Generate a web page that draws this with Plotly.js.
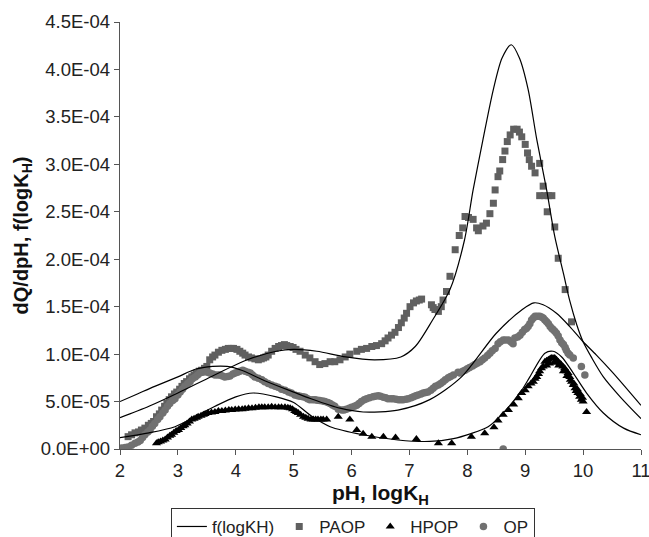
<!DOCTYPE html>
<html>
<head>
<meta charset="utf-8">
<script src="https://cdn.plot.ly/plotly-3.0.1.min.js"></script>
<style>html,body{margin:0;padding:0;background:#fff;}#chart{width:649px;height:537px;}</style>
</head>
<body>
<div id="chart"></div>
<script>
// All y values are in units of 1E-04
const UNIT = 1e-4;

// PAOP (squares)
const paopX = [2.14,2.20,2.26,2.32,2.37,2.43,2.49,2.54,2.58,2.63,2.68,2.72,2.77,2.81,2.85,2.89,2.94,2.98,3.03,3.07,3.11,3.15,3.20,3.24,3.28,3.32,3.37,3.41,3.46,3.50,3.55,3.60,3.64,3.70,3.76,3.82,3.87,3.92,3.96,4.02,4.07,4.12,4.16,4.22,4.27,4.33,4.39,4.44,4.48,4.52,4.56,4.62,4.68,4.74,4.79,4.84,4.88,4.94,4.99,5.04,5.11,5.20,5.28,5.37,5.45,5.54,5.63,5.71,5.80,5.89,5.97,6.09,6.17,6.26,6.35,6.43,6.52,6.58,6.63,6.69,6.75,6.81,6.86,6.91,6.95,7.01,7.07,7.12,7.17,7.21,7.38,7.41,7.44,7.50,7.55,7.58,7.64,7.70,7.79,7.86,7.92,7.96,8.02,8.10,8.16,8.19,8.27,8.33,8.39,8.45,8.48,8.53,8.56,8.61,8.65,8.69,8.74,8.80,8.86,8.90,8.94,9.00,9.04,9.07,9.11,9.17,9.25,9.31,9.25,9.33,9.40,9.46,9.38,9.51,9.57,9.69,9.80];
const paopY = [0.13,0.15,0.17,0.18,0.20,0.22,0.25,0.27,0.29,0.34,0.37,0.41,0.45,0.48,0.52,0.55,0.58,0.60,0.63,0.66,0.69,0.71,0.74,0.76,0.78,0.80,0.82,0.83,0.85,0.87,0.94,0.97,0.99,1.02,1.04,1.05,1.06,1.06,1.06,1.05,1.03,1.01,0.99,0.97,0.96,0.95,0.94,0.95,0.96,0.97,0.99,1.03,1.06,1.08,1.09,1.10,1.09,1.08,1.07,1.05,1.03,0.99,0.96,0.92,0.89,0.90,0.92,0.92,0.94,0.97,1.00,1.03,1.05,1.06,1.08,1.09,1.11,1.14,1.17,1.20,1.23,1.28,1.33,1.38,1.43,1.50,1.54,1.56,1.57,1.58,1.52,1.49,1.47,1.45,1.50,1.57,1.66,1.82,2.10,2.25,2.33,2.45,2.44,2.42,2.33,2.30,2.35,2.38,2.48,2.59,2.73,2.87,2.93,3.05,3.14,3.24,3.31,3.37,3.37,3.34,3.29,3.21,3.12,3.05,2.98,2.91,3.01,2.77,2.67,2.67,2.67,2.67,2.50,2.34,2.01,1.68,1.34];

// HPOP (triangles)
const hpopX = [2.63,2.66,2.70,2.74,2.78,2.82,2.86,2.89,2.93,2.97,3.01,3.05,3.09,3.12,3.16,3.20,3.24,3.28,3.32,3.35,3.40,3.44,3.47,3.52,3.58,3.64,3.70,3.76,3.82,3.88,3.93,3.99,4.05,4.11,4.16,4.22,4.28,4.34,4.40,4.45,4.50,4.56,4.62,4.68,4.74,4.79,4.85,4.90,4.94,4.98,5.02,5.05,5.08,5.12,5.17,5.21,5.25,5.30,5.34,5.38,5.42,5.47,5.51,5.57,5.77,5.97,6.09,6.20,6.35,6.55,6.76,7.12,7.50,7.73,8.07,8.30,8.46,8.53,8.62,8.71,8.80,8.88,8.94,9.00,9.05,9.10,9.14,9.17,9.20,9.23,9.25,9.28,9.31,9.34,9.37,9.40,9.43,9.45,9.48,9.51,9.54,9.57,9.60,9.62,9.65,9.68,9.71,9.74,9.77,9.80,9.83,9.86,9.88,9.91,9.94,9.97,10.00,10.06,9.37,9.42,9.50,9.58,9.66,9.72,9.78,9.84,9.90,9.95,9.99];
const hpopY = [0.06,0.07,0.08,0.09,0.10,0.12,0.14,0.15,0.17,0.19,0.20,0.22,0.24,0.25,0.27,0.29,0.31,0.32,0.33,0.34,0.35,0.36,0.37,0.38,0.385,0.39,0.40,0.40,0.405,0.41,0.41,0.415,0.42,0.42,0.425,0.43,0.43,0.435,0.44,0.44,0.44,0.44,0.445,0.44,0.44,0.44,0.44,0.435,0.43,0.42,0.40,0.39,0.38,0.36,0.34,0.33,0.32,0.31,0.31,0.31,0.31,0.31,0.31,0.31,0.34,0.31,0.20,0.16,0.13,0.13,0.12,0.105,0.06,0.06,0.13,0.165,0.23,0.30,0.36,0.41,0.47,0.535,0.59,0.62,0.66,0.69,0.71,0.74,0.76,0.79,0.82,0.85,0.87,0.92,0.93,0.94,0.95,0.96,0.96,0.96,0.94,0.92,0.90,0.89,0.87,0.85,0.82,0.80,0.76,0.71,0.675,0.64,0.61,0.59,0.55,0.52,0.50,0.39,0.88,0.90,0.91,0.88,0.82,0.77,0.73,0.69,0.63,0.58,0.54];

// OP (circles)
const opX = [2.03,2.09,2.14,2.20,2.26,2.31,2.35,2.39,2.43,2.48,2.52,2.56,2.60,2.65,2.69,2.74,2.78,2.82,2.86,2.91,2.95,3.00,3.04,3.08,3.12,3.17,3.21,3.25,3.30,3.34,3.38,3.43,3.47,3.51,3.55,3.60,3.64,3.69,3.73,3.77,3.81,3.86,3.90,3.95,3.99,4.03,4.07,4.12,4.16,4.21,4.25,4.29,4.33,4.39,4.45,4.50,4.56,4.62,4.68,4.73,4.79,4.85,4.91,4.96,5.02,5.07,5.11,5.16,5.20,5.24,5.28,5.33,5.37,5.41,5.45,5.50,5.54,5.59,5.63,5.67,5.71,5.77,5.83,5.87,5.91,5.96,6.00,6.05,6.09,6.13,6.17,6.22,6.26,6.31,6.37,6.41,6.46,6.50,6.55,6.59,6.63,6.68,6.72,6.77,6.81,6.85,6.89,6.94,6.98,7.03,7.07,7.11,7.15,7.20,7.24,7.28,7.32,7.37,7.41,7.45,7.50,7.54,7.58,7.62,7.67,7.71,7.76,7.84,7.87,7.92,7.96,8.00,8.04,8.09,8.13,8.17,8.22,8.26,8.30,8.35,8.39,8.43,8.48,8.53,8.57,8.62,8.66,8.71,8.75,8.79,8.82,8.87,8.91,8.95,8.99,9.02,9.05,9.08,9.11,9.14,9.17,9.21,9.25,9.28,9.31,9.34,9.37,9.40,9.43,9.46,9.48,9.51,9.54,9.57,9.60,9.63,9.66,9.69,9.71,9.74,9.77,9.83,9.97,10.03,8.62];
const opY = [0.01,0.015,0.02,0.04,0.06,0.075,0.09,0.12,0.15,0.18,0.20,0.24,0.27,0.31,0.34,0.38,0.41,0.45,0.48,0.51,0.53,0.57,0.60,0.63,0.66,0.69,0.71,0.74,0.76,0.78,0.80,0.81,0.82,0.81,0.80,0.79,0.78,0.78,0.78,0.77,0.76,0.765,0.77,0.79,0.80,0.81,0.82,0.83,0.82,0.81,0.80,0.78,0.76,0.745,0.73,0.71,0.69,0.675,0.66,0.65,0.63,0.62,0.60,0.59,0.57,0.56,0.555,0.55,0.545,0.53,0.52,0.52,0.52,0.515,0.51,0.505,0.50,0.49,0.48,0.465,0.45,0.42,0.41,0.41,0.42,0.43,0.44,0.45,0.46,0.48,0.50,0.52,0.53,0.54,0.55,0.555,0.56,0.555,0.545,0.54,0.53,0.53,0.53,0.525,0.52,0.52,0.52,0.525,0.53,0.54,0.55,0.56,0.57,0.58,0.59,0.595,0.60,0.62,0.64,0.66,0.675,0.69,0.71,0.73,0.75,0.765,0.78,0.81,0.80,0.82,0.83,0.845,0.86,0.875,0.89,0.905,0.92,0.94,0.96,0.985,1.01,1.035,1.06,1.11,1.13,1.15,1.15,1.15,1.13,1.11,1.17,1.18,1.20,1.23,1.26,1.27,1.29,1.32,1.36,1.38,1.40,1.40,1.40,1.39,1.38,1.36,1.34,1.32,1.29,1.27,1.26,1.24,1.22,1.19,1.15,1.12,1.10,1.07,1.04,1.01,0.99,0.96,0.87,0.78,0.00];

// f(logKH) fitted curves
const fitPaopX = [2.0,2.5,3.0,3.6,4.2,4.7,5.0,5.4,5.9,6.4,6.85,7.1,7.4,7.7,7.95,8.1,8.27,8.45,8.6,8.76,8.9,9.05,9.2,9.37,9.51,9.66,9.77,9.89,10.0,10.15,10.35,10.64,11.0];
const fitPaopY = [0.33,0.45,0.59,0.77,0.94,1.03,1.05,1.03,0.97,0.94,0.97,1.08,1.36,1.68,2.2,2.73,3.26,3.79,4.12,4.26,4.12,3.79,3.26,2.73,2.24,1.85,1.56,1.31,1.13,0.96,0.76,0.55,0.32];
const fitOpX = [2.0,2.3,2.6,3.0,3.3,3.6,3.85,4.1,4.5,5.0,5.3,5.8,6.2,6.8,7.35,7.9,8.5,8.95,9.15,9.31,9.54,9.77,10.0,10.23,10.52,11.0];
const fitOpY = [0.50,0.58,0.66,0.76,0.84,0.87,0.87,0.83,0.72,0.60,0.53,0.43,0.39,0.41,0.52,0.76,1.22,1.47,1.54,1.52,1.43,1.29,1.13,0.99,0.80,0.46];
const fitHpopX = [2.0,2.5,2.95,3.3,3.64,4.0,4.3,4.7,5.0,5.3,5.63,6.2,6.8,7.35,7.76,8.05,8.36,8.65,8.94,9.08,9.34,9.48,9.63,9.83,10.06,10.35,10.7,11.0];
const fitHpopY = [0.12,0.17,0.235,0.34,0.45,0.55,0.59,0.55,0.49,0.35,0.235,0.15,0.095,0.08,0.11,0.16,0.235,0.40,0.62,0.76,1.01,1.03,0.97,0.80,0.59,0.38,0.22,0.15];

// Axis tick labels
const yTickVals = [0,0.5,1.0,1.5,2.0,2.5,3.0,3.5,4.0,4.5];
const yTickText = ["0.0E+00","5.0E-05","1.0E-04","1.5E-04","2.0E-04","2.5E-04","3.0E-04","3.5E-04","4.0E-04","4.5E-04"];

const sc = a => a.map(v => v * UNIT);
const font = "Liberation Sans, Arial, Helvetica, sans-serif";
const lineStyle = {color:'#000', width:1.2, shape:'spline', smoothing:0.8};

const traces = [
  {x:paopX, y:sc(paopY), type:'scatter', mode:'markers', name:'PAOP', legendrank:2,
   marker:{symbol:'square', size:7, color:'#606060'}},
  {x:hpopX, y:sc(hpopY), type:'scatter', mode:'markers', name:'HPOP', legendrank:3,
   marker:{symbol:'triangle-up', size:8, color:'#000'}},
  {x:opX, y:sc(opY), type:'scatter', mode:'markers', name:'OP', legendrank:4,
   marker:{symbol:'circle', size:7.5, color:'#717171'}},
  {x:fitPaopX, y:sc(fitPaopY), type:'scatter', mode:'lines', name:'f(logKH)', legendrank:1,
   legendgroup:'fit', line:lineStyle},
  {x:fitOpX, y:sc(fitOpY), type:'scatter', mode:'lines', name:'f(logKH)', showlegend:false,
   legendgroup:'fit', line:lineStyle},
  {x:fitHpopX, y:sc(fitHpopY), type:'scatter', mode:'lines', name:'f(logKH)', showlegend:false,
   legendgroup:'fit', line:lineStyle}
];

const layout = {
  width:649, height:537,
  margin:{l:120, r:8, t:22, b:88, autoexpand:false},
  paper_bgcolor:'#fff', plot_bgcolor:'#fff',
  font:{family:font, size:18, color:'#222'},
  showlegend:true,
  legend:{orientation:'h', x:0.447, xanchor:'center', y:-0.138, yanchor:'top',
          bordercolor:'#333', borderwidth:1, font:{size:17, color:'#222'}, itemwidth:30,
          traceorder:'normal'},
  xaxis:{range:[2,11], dtick:1, tick0:2, showline:true, linecolor:'#555', linewidth:1.2,
         ticks:'outside', ticklen:5, tickcolor:'#555', showgrid:false, zeroline:false,
         ticklabeloverflow:'allow', tickfont:{size:18.5, color:'#222'},
         title:{text:'<b>pH, logK<sub>H</sub></b>', font:{size:21, color:'#111'}, standoff:4}},
  yaxis:{range:[0,4.5*UNIT], tickvals:sc(yTickVals), ticktext:yTickText, showline:true,
         linecolor:'#555', linewidth:1.2, ticks:'outside', ticklen:5, tickcolor:'#555',
         showgrid:false, zeroline:false, tickfont:{size:18.5, color:'#222'},
         title:{text:'<b>dQ/dpH, f(logK<sub>H</sub>)</b>', font:{size:20, color:'#111'}, standoff:6}}
};

Plotly.newPlot('chart', traces, layout, {displayModeBar:false, staticPlot:true});
</script>
</body>
</html>
